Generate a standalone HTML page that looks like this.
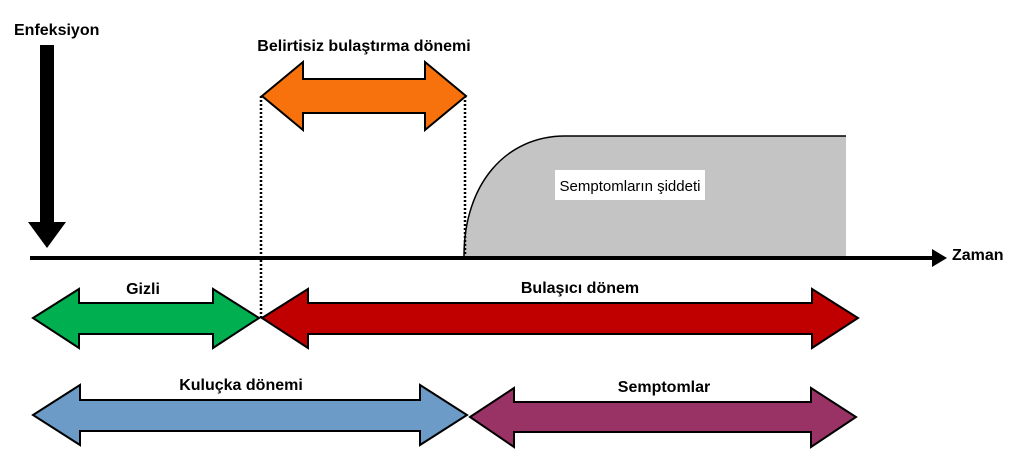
<!DOCTYPE html>
<html><head><meta charset="utf-8"><style>body{margin:0;background:#fff}svg{display:block}text{font-family:"Liberation Sans",sans-serif}</style></head><body>
<svg width="1022" height="451" viewBox="0 0 1022 451">
<g font-size="16" font-weight="bold" fill="#000">
<text x="14" y="35">Enfeksiyon</text>
<text x="364" y="51" text-anchor="middle">Belirtisiz bulaştırma dönemi</text>
<text x="143" y="294" text-anchor="middle">Gizli</text>
<text x="580" y="293" text-anchor="middle">Bulaşıcı dönem</text>
<text x="241" y="390" text-anchor="middle">Kuluçka dönemi</text>
<text x="664" y="392" text-anchor="middle">Semptomlar</text>
<text x="952" y="260">Zaman</text>
</g>
<path d="M464 256 C464 185 505 136 565 136 L846 136 L846 256 Z" fill="#c4c4c4"/>
<path d="M464 256 C464 185 505 136 565 136 L846 136" fill="none" stroke="#000" stroke-width="1.5"/>
<rect x="555" y="170" width="150" height="30" fill="#fff"/>
<text x="630" y="191" font-size="15" text-anchor="middle">Semptomların şiddeti</text>
<line x1="30" y1="258" x2="935" y2="258" stroke="#000" stroke-width="4"/>
<polygon points="932,249 947,258 932,267" fill="#000"/>
<polygon points="40,45 54,45 54,222 66,222 47,248 28,222 40,222" fill="#000"/>
<g stroke="#000" stroke-width="2.5" stroke-dasharray="2,2">
<line x1="261" y1="96" x2="261" y2="318"/>
<line x1="465" y1="96" x2="465" y2="256"/>
</g>
<g stroke="#000" stroke-width="2" stroke-linejoin="miter">
<polygon fill="#f7720c" points="262,96 303,62 303,79 425,79 425,62 466,96 425,130 425,113 303,113 303,130"/>
<polygon fill="#00b050" points="33,318 79,289 79,303 213,303 213,289 259,318 213,348 213,334 79,334 79,348"/>
<polygon fill="#c00000" points="262,318 308,289 308,303 812,303 812,289 858,318 812,348 812,334 308,334 308,348"/>
<polygon fill="#6c9bc7" points="33,415 80,385 80,400 420,400 420,385 467,415 420,445 420,431 80,431 80,445"/>
<polygon fill="#993366" points="470,417 514,388 514,402 811,402 811,388 856,417 811,447 811,432 514,432 514,447"/>
</g>
</svg>
</body></html>
